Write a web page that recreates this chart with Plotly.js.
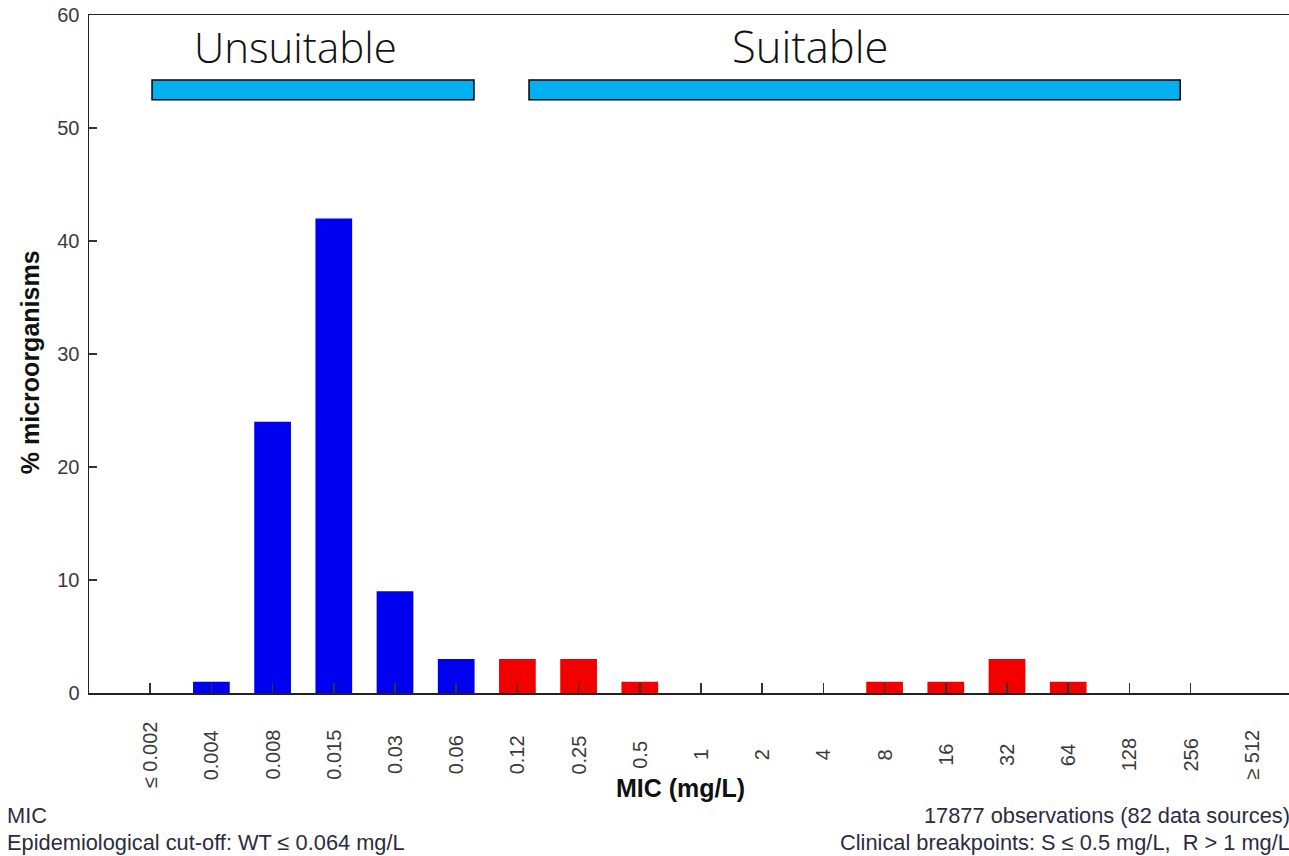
<!DOCTYPE html>
<html>
<head>
<meta charset="utf-8">
<script src="https://cdn.plot.ly/plotly-3.0.1.min.js"></script>
<style>
html,body{margin:0;padding:0;overflow:hidden;background:#fff;}
#chart{width:1320px;height:856px;}
</style>
</head>
<body>
<div id="chart"></div>
<script>
// Data
const categories = ["≤0.002","0.004","0.008","0.015","0.03","0.06","0.12","0.25","0.5","1","2","4","8","16","32","64","128","256","≥512"];
const tickLabels = ["≤ 0.002","0.004","0.008","0.015","0.03","0.06","0.12","0.25","0.5","1","2","4","8","16","32","64","128","256","≥ 512"];
const percentValues = [0,1,24,42,9,3,3,3,1,0,0,0,1,1,3,1,0,0,0];
const wildTypeCount = 6; // categories up to 0.06 are wild type (blue)
const bandLabels = ["Unsuitable","Suitable"];
const footLeft = ["MIC","Epidemiological cut-off: WT ≤ 0.064 mg/L"];
const footRight = ["17877 observations (82 data sources)","Clinical breakpoints: S ≤ 0.5 mg/L,  R > 1 mg/L"];

const barColors = categories.map((c,i)=> i < wildTypeCount ? "#0000F0" : "#F20000");

const trace = {
  type:"bar",
  x: categories,
  y: percentValues,
  marker:{color: barColors, line:{width:0}},
  width: 0.6,
  hoverinfo:"x+y"
};

const tickFont = {family:"Liberation Sans, Arial, sans-serif", size:20, color:"#3a3a3a"};
const footFont = {family:"Liberation Sans, Arial, sans-serif", size:21.8, color:"#2c2c40"};

const annotations = [];
tickLabels.forEach((t,i)=>{
  annotations.push({x:i, xref:"x", y:-0.0914, yref:"paper", text:t, textangle:-90,
    showarrow:false, xanchor:"center", yanchor:"middle", font:tickFont});
});
annotations.push({x:0.483, xref:"paper", y:-0.140, yref:"paper", text:"<b>MIC (mg/L)</b>", showarrow:false,
  xanchor:"center", yanchor:"middle", font:{family:"Liberation Sans, Arial, sans-serif", size:25, color:"#111"}});
annotations.push({x:-0.0482, xref:"paper", y:0.488, yref:"paper", text:"<b>% microorganisms</b>", textangle:-90, showarrow:false,
  xanchor:"center", yanchor:"middle", font:{family:"Liberation Sans, Arial, sans-serif", size:25, color:"#111"}});
footLeft.forEach((t,i)=>{
  annotations.push({x:-0.0686, xref:"paper", y:[-0.1814,-0.2212][i], yref:"paper", text:t, showarrow:false,
    xanchor:"left", yanchor:"middle", font:footFont});
});
footRight.forEach((t,i)=>{
  annotations.push({x:0.983, xref:"paper", y:[-0.1814,-0.2212][i], yref:"paper", text:t, showarrow:false,
    xanchor:"right", yanchor:"middle", font:footFont});
});
// band labels
const bandCenters = [2.37, 10.78];
const bandSizes = [42, 43.5];
bandLabels.forEach((t,i)=>{
  annotations.push({x:bandCenters[i], xref:"x", y:57.2, yref:"y", text:t, showarrow:false,
    xanchor:"center", yanchor:"middle", font:{family:"Open Sans, sans-serif", size:bandSizes[i], color:"#111", weight:300}});
});

const shapes = [
  {type:"rect", xref:"x", yref:"y", x0:0.03, x1:5.29, y0:52.5, y1:54.25, fillcolor:"#00B0F0", line:{color:"#000", width:1.5}},
  {type:"rect", xref:"x", yref:"y", x0:6.19, x1:16.83, y0:52.5, y1:54.25, fillcolor:"#00B0F0", line:{color:"#000", width:1.5}}
];

const layout = {
  width:1320, height:856,
  margin:{l:89, r:7, t:15, b:163},
  paper_bgcolor:"#fff", plot_bgcolor:"#fff",
  showlegend:false,
  xaxis:{
    type:"category",
    range:[-1,19],
    tickmode:"array",
    tickvals: categories.slice(0,18),
    showticklabels:false,
    ticks:"inside", ticklen:10, tickwidth:1.5, tickcolor:"#333",
    showline:true, linecolor:"#222", linewidth:1.5, mirror:true,
    showgrid:false, zeroline:false, fixedrange:true
  },
  yaxis:{
    range:[0,60], dtick:10, tick0:0,
    ticks:"inside", ticklen:8, tickwidth:1.5, tickcolor:"#333",
    tickfont:tickFont, ticklabelstandoff:4,
    showline:true, linecolor:"#222", linewidth:1.5, mirror:true,
    showgrid:false, zeroline:false, fixedrange:true
  },
  annotations: annotations,
  shapes: shapes
};

Plotly.newPlot("chart",[trace],layout,{displayModeBar:false, staticPlot:true});
</script>
</body>
</html>
